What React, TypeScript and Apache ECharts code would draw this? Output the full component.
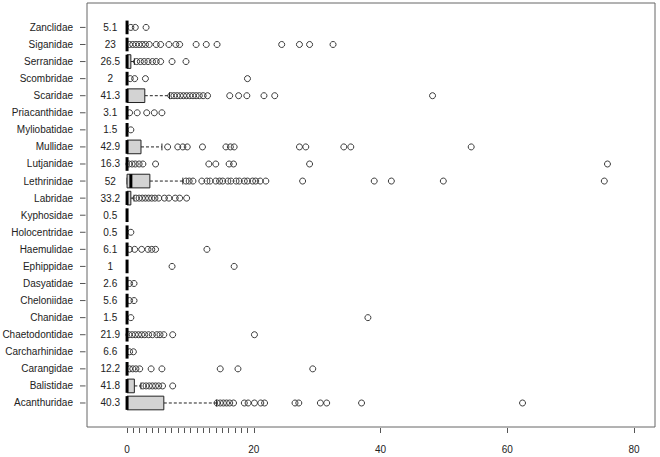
import React, { useEffect, useRef } from "react";
import * as echarts from "echarts";

// Families, listed bottom (index 0) to top
const categories = [
  "Acanthuridae", "Balistidae", "Carangidae", "Carcharhinidae", "Chaetodontidae",
  "Chanidae", "Cheloniidae", "Dasyatidae", "Ephippidae", "Haemulidae",
  "Holocentridae", "Kyphosidae", "Labridae", "Lethrinidae", "Lutjanidae",
  "Mullidae", "Myliobatidae", "Priacanthidae", "Scaridae", "Scombridae",
  "Serranidae", "Siganidae", "Zanclidae",
];

const countLabels = [
  "40.3", "41.8", "12.2", "6.6", "21.9", "1.5", "5.6", "2.6", "1", "6.1",
  "0.5", "0.5", "33.2", "52", "16.3", "42.9", "1.5", "3.1", "41.3", "2",
  "26.5", "23", "5.1",
];

// box statistics per family (same order as categories)
const q1s = [0, 0, 0, 0, 0, 0, 0, 0, 0, 0, 0, 0, 0, 0, 0, 0, 0, 0, 0, 0, 0, 0, 0];
const medians = [0, 0, 0, 0, 0, 0, 0, 0, 0, 0, 0, 0, 0, 0.6, 0, 0, 0, 0, 0, 0, 0, 0, 0];
const q3s = [5.8, 1.15, 0, 0, 0, 0, 0, 0, 0, 0, 0, 0, 0.6, 3.6, 0, 2.2, 0, 0, 2.8, 0, 0.6, 0, 0];
const whiskerLow = [0, 0, 0, 0, 0, 0, 0, 0, 0, 0, 0, 0, 0, 0, 0, 0, 0, 0, 0, 0, 0, 0, 0];
const whiskerHigh = [14.1, 2.2, 0, 0, 0, 0, 0, 0, 0, 0, 0, 0, 1.1, 8.8, 0, 5.5, 0, 0, 6.7, 0, 1.15, 0, 0];

// outliers per family
const outAcanthuridae = [14.2, 14.7, 15.2, 15.7, 16.2, 16.8, 18.5, 19.1, 20.1, 21.1, 21.7, 26.5, 27.1, 30.5, 31.5, 37.0, 62.4];
const outBalistidae = [2.5, 3.0, 3.5, 4.0, 4.5, 5.0, 5.6, 7.2];
const outCarangidae = [0.4, 0.9, 1.4, 2.0, 3.8, 5.5, 14.7, 17.5, 29.3];
const outCarcharhinidae = [0.4, 1.0];
const outChaetodontidae = [0.3, 0.8, 1.3, 1.8, 2.3, 2.8, 3.4, 4.0, 4.7, 5.2, 5.8, 7.2, 20.1];
const outChanidae = [0.6, 38.0];
const outCheloniidae = [0.4, 1.1];
const outDasyatidae = [0.4, 1.1];
const outEphippidae = [7.1, 16.9];
const outHaemulidae = [0.4, 1.2, 2.3, 3.3, 3.9, 4.5, 12.6];
const outHolocentridae = [0.6];
const outKyphosidae: number[] = [];
const outLabridae = [1.4, 1.9, 2.4, 2.9, 3.4, 3.9, 4.4, 5.0, 5.9, 6.6, 7.6, 8.3, 9.4];
const outLethrinidae = [9.3, 9.8, 10.4, 11.8, 12.6, 13.1, 14.0, 14.6, 15.1, 15.9, 16.4, 17.2, 17.7, 18.5, 19.0, 19.8, 20.3, 21.0, 21.9, 27.7, 39.0, 41.7, 49.9, 75.3];
const outLutjanidae = [0.3, 0.8, 1.3, 1.9, 2.5, 4.5, 12.9, 14.0, 16.1, 16.8, 28.8, 75.8];
const outMullidae = [6.4, 8.0, 8.8, 9.5, 11.9, 15.6, 16.3, 16.9, 27.2, 28.2, 34.2, 35.3, 54.3];
const outMyliobatidae = [0.6];
const outPriacanthidae = [0.4, 1.6, 3.1, 4.3, 5.5];
const outScaridae = [6.9, 7.4, 7.9, 8.4, 8.9, 9.4, 9.9, 10.4, 10.9, 11.4, 12.0, 12.7, 16.2, 17.6, 18.9, 21.6, 23.3, 48.2];
const outScombridae = [0.5, 1.2, 2.9, 19.0];
const outSerranidae = [1.5, 2.1, 2.7, 3.3, 4.0, 4.6, 5.3, 7.1, 9.3];
const outSiganidae = [0.4, 0.9, 1.4, 1.9, 2.4, 2.9, 3.5, 4.6, 5.3, 6.6, 7.7, 8.3, 10.9, 12.5, 14.2, 24.4, 27.2, 28.8, 32.5];
const outZanclidae = [0.6, 1.3, 3.0];

const outliers = [
  outAcanthuridae, outBalistidae, outCarangidae, outCarcharhinidae, outChaetodontidae,
  outChanidae, outCheloniidae, outDasyatidae, outEphippidae, outHaemulidae,
  outHolocentridae, outKyphosidae, outLabridae, outLethrinidae, outLutjanidae,
  outMullidae, outMyliobatidae, outPriacanthidae, outScaridae, outScombridae,
  outSerranidae, outSiganidae, outZanclidae,
];

const xTickValues = [0, 1, 2, 3, 4, 5, 6, 7, 8, 9, 10, 11, 12, 13, 14, 15, 16, 17, 18, 19, 20, 40, 60, 80];
const xLabelValues = [0, 20, 40, 60, 80];

const FONT = "'Liberation Sans', Arial, Helvetica, sans-serif";
const X_MIN = -6.32;
const X_MAX = 83.3;
const COUNT_X = -2.65;

export default function App() {
  const ref = useRef<HTMLDivElement>(null);

  useEffect(() => {
    if (!ref.current) return;
    const chart = echarts.init(ref.current, null, { renderer: "svg" });
    const rowIdx = categories.map((_, i) => i);
    const boxData = categories.map((_, i) => [i, q1s[i], medians[i], q3s[i], whiskerLow[i], whiskerHigh[i]]);
    const outlierData: number[][] = [];
    outliers.forEach((arr, i) => arr.forEach((v) => outlierData.push([v, i])));
    const countData = categories.map((_, i) => [COUNT_X, i]);

    chart.setOption({
      animation: false,
      backgroundColor: "#ffffff",
      grid: {
        left: 87, top: 3, right: 5, bottom: 30,
        show: true, borderColor: "#666", borderWidth: 1, backgroundColor: "transparent",
        outerBoundsMode: "none",
      },
      xAxis: {
        type: "value", min: X_MIN, max: X_MAX, position: "bottom", offset: 1,
        axisLine: { show: false, onZero: false },
        axisTick: { show: true, length: 5, customValues: xTickValues, lineStyle: { color: "#555", width: 1 } },
        axisLabel: { show: true, customValues: xLabelValues, margin: 16, fontSize: 10, color: "#222", fontFamily: FONT },
        splitLine: { show: false },
      },
      yAxis: {
        type: "value", min: -1.406, max: 23.43, position: "left", offset: 1,
        axisLine: { show: false, onZero: false },
        axisTick: { show: false },
        axisLabel: {
          show: true, customValues: rowIdx, margin: 13, fontSize: 10, color: "#222", fontFamily: FONT,
          formatter: (v: number) => categories[Math.round(v)] ?? "",
        },
        splitLine: { show: false },
      },
      series: [
        {
          type: "custom",
          silent: true,
          encode: { x: [1, 2, 3, 4, 5], y: 0 },
          data: boxData,
          renderItem: (params: any, api: any) => {
            const i = api.value(0);
            const q1 = api.value(1), md = api.value(2), q3 = api.value(3), lo = api.value(4), hi = api.value(5);
            const c = (v: number) => api.coord([v, i]);
            const p1 = c(q1);
            const y = p1[1];
            const x1 = p1[0];
            const xm = c(md)[0], x3 = c(q3)[0], xl = c(lo)[0], xh = c(hi)[0];
            const unit = Math.abs(api.size([0, 1])[1]);
            const h = unit * 0.8;
            const children: any[] = [];
            const dash = { stroke: "#222", lineWidth: 1, lineDash: [3, 2] };
            const solid = { stroke: "#222", lineWidth: 1 };
            if (xh > x3) children.push({ type: "line", shape: { x1: x3, y1: y, x2: xh, y2: y }, style: dash });
            if (xl < x1) children.push({ type: "line", shape: { x1: xl, y1: y, x2: x1, y2: y }, style: dash });
            children.push({ type: "line", shape: { x1: xh, y1: y - h / 4, x2: xh, y2: y + h / 4 }, style: solid });
            children.push({ type: "line", shape: { x1: xl, y1: y - h / 4, x2: xl, y2: y + h / 4 }, style: solid });
            if (x3 > x1) {
              children.push({
                type: "rect",
                shape: { x: x1, y: y - h / 2, width: x3 - x1, height: h },
                style: { fill: "#d3d3d3", stroke: "#222", lineWidth: 1 },
              });
            }
            children.push({
              type: "line",
              shape: { x1: xm, y1: y - h / 2, x2: xm, y2: y + h / 2 },
              style: { stroke: "#000", lineWidth: 3 },
            });
            return { type: "group", children };
          },
          z: 3,
        },
        {
          type: "scatter",
          silent: true,
          symbol: "circle",
          symbolSize: 6,
          data: outlierData,
          itemStyle: { color: "rgba(0,0,0,0)", borderColor: "#3a3a3a", borderWidth: 1, opacity: 1 },
          z: 2,
        },
        {
          type: "custom",
          silent: true,
          clip: false,
          encode: { x: 0, y: 1 },
          data: countData,
          renderItem: (params: any, api: any) => {
            const p = api.coord([api.value(0), api.value(1)]);
            const left = api.coord([X_MIN, api.value(1)])[0];
            return {
              type: "group",
              children: [
                {
                  type: "text",
                  x: p[0],
                  y: p[1],
                  style: {
                    text: countLabels[params.dataIndex],
                    align: "center",
                    verticalAlign: "middle",
                    fill: "#222",
                    fontSize: 10,
                    fontFamily: FONT,
                  },
                },
                {
                  type: "line",
                  shape: { x1: left - 7, y1: p[1], x2: left - 1.5, y2: p[1] },
                  style: { stroke: "#555", lineWidth: 1 },
                },
              ],
            };
          },
          z: 4,
        },
      ],
    });
    return () => chart.dispose();
  }, []);

  return (
    <div
      ref={ref}
      style={{ position: "fixed", left: 0, top: 0, width: 660, height: 457, background: "#fff" }}
    />
  );
}
